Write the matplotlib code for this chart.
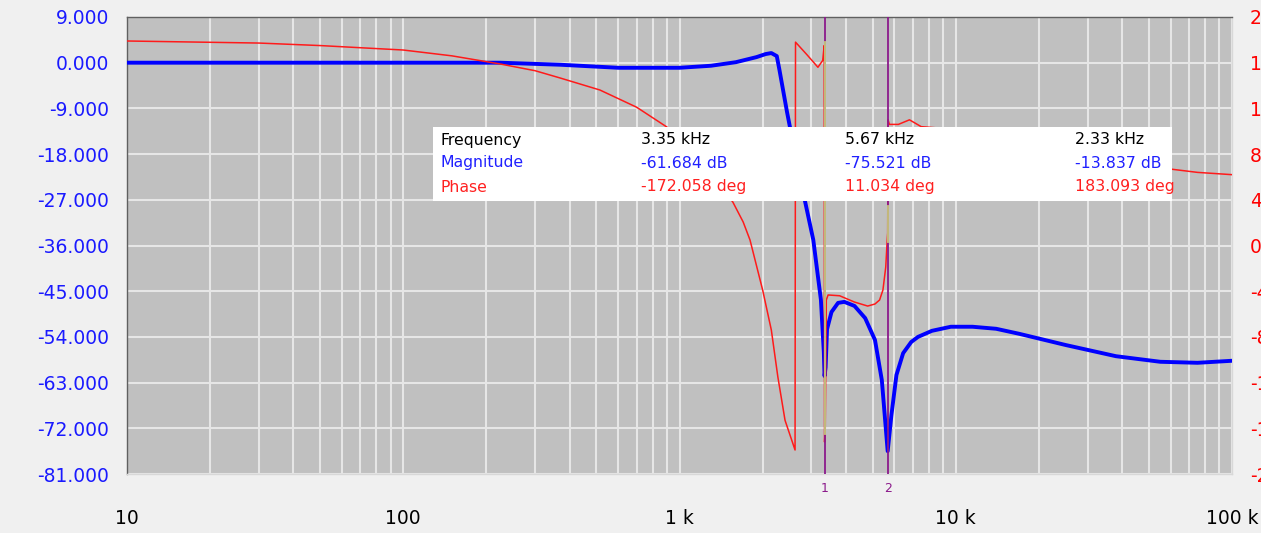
import numpy as np
import matplotlib
matplotlib.use("Agg")
import matplotlib.pyplot as plt
from matplotlib.ticker import FixedLocator, NullFormatter, LogLocator

# magnitude trace (Hz, dB)
mag_freq = [10, 100, 224, 370, 600, 1000, 1300, 1600, 1900, 2050, 2150, 2250, 2300,
            2450, 2700, 2850, 3050, 3250, 3330, 3350, 3380, 3420, 3550, 3750, 3950,
            4300, 4700, 5100, 5400, 5670, 5850, 6100, 6450, 6900, 7300, 8200, 9600,
            11500, 14000, 17000, 25000, 38000, 55000, 75000, 100000]
mag_db = [0.0, 0.0, 0.0, -0.4, -1.0, -1.0, -0.6, 0.1, 1.1, 1.7, 1.9, 1.3, -1.4,
          -9.7, -21.5, -27.4, -34.9, -46.7, -57.0, -61.7, -60.0, -52.5, -49.1, -47.3, -47.1,
          -47.9, -50.3, -54.6, -62.5, -76.5, -69.4, -61.5, -57.2, -55.0, -54.0, -52.8, -52.0,
          -52.0, -52.4, -53.4, -55.6, -57.8, -58.9, -59.1, -58.7]

# phase trace (Hz, deg)
ph_freq = [10, 30, 50, 100, 150, 224, 300, 370, 515, 700, 900, 1000, 1200, 1400, 1560, 1700, 1800,
           2000, 2150, 2270, 2410, 2620, 2630, 2900, 3170, 3300, 3340, 3350, 3370, 3400,
           3450, 3800, 4300, 4800, 5100, 5300, 5450, 5580, 5640, 5670, 5690, 5750, 6200,
           6800, 7500, 8500, 12000, 20000, 35000, 55000, 75000, 100000]
ph_deg = [179.0, 177.2, 175.0, 171.1, 166.0, 158.9, 153.0, 146.6, 136.1, 121.0, 103.7, 92.0, 72.0, 53.0, 38.0, 20.6, 4.8,
          -39.0, -74.0, -115.0, -153.0, -179.0, 178.0, 166.7, 156.0, 162.0, 175.0, -172.0, -160.0, -47.7,
          -43.3, -44.0, -49.5, -53.0, -51.2, -47.7, -39.0, -18.8, 2.0, 11.0, 110.0, 106.0, 106.0,
          110.0, 104.0, 103.0, 95.0, 82.0, 73.0, 68.0, 64.0, 62.0]

marker_freq = [3350, 5670]
marker_names = ["1", "2"]

col_head = ["Frequency", "Magnitude", "Phase"]
col1 = ["3.35 kHz", "-61.684 dB", "-172.058 deg"]
col2 = ["5.67 kHz", "-75.521 dB", "11.034 deg"]
col3 = ["2.33 kHz", "-13.837 dB", "183.093 deg"]

db_ticks = [9, 0, -9, -18, -27, -36, -45, -54, -63, -72, -81]
deg_ticks = [200, 160, 120, 80, 40, 0, -40, -80, -120, -160, -200]
x_ticks = [10, 100, 1000, 10000, 100000]
x_labels = ["10", "100", "1 k", "10 k", "100 k"]

plt.rcParams['font.family'] = ['DejaVu Sans']

fig = plt.figure(figsize=(12.61, 5.33), dpi=100, facecolor='#f0f0f0')
ax = fig.add_axes([127/1261, 1-474/533, 1105/1261, 457/533])
ax.set_facecolor('#c0c0c0')
ax.set_xscale('log')
ax.set_xlim(10, 100000)
ax.set_ylim(-81, 9)

ax.xaxis.set_major_locator(FixedLocator(x_ticks))
ax.set_xticklabels(x_labels)
ax.xaxis.set_minor_locator(LogLocator(base=10, subs=np.arange(2, 10)))
ax.xaxis.set_minor_formatter(NullFormatter())
ax.set_yticks(db_ticks)
ax.set_yticklabels(["%.3f" % v for v in db_ticks])
ax.tick_params(axis='x', which='both', length=0, pad=25.5, labelsize=13.5, labelcolor='black')
ax.tick_params(axis='y', length=0, pad=13, labelsize=13.5, labelcolor='#1a1aff')
ax.grid(True, which='both', axis='x', color='#e6e6e6', lw=1.5)
ax.grid(True, which='major', axis='y', color='#e6e6e6', lw=1.5)
ax.set_axisbelow(True)
for s in ax.spines.values():
    s.set_color('#606060')
    s.set_linewidth(1.0)
ax.spines['bottom'].set_color('#d8d8d8')
ax.spines['right'].set_color('#d8d8d8')

ax.plot(mag_freq, mag_db, color='#0000ff', lw=2.8, zorder=3)

ax2 = ax.twinx()
ax2.set_ylim(-200, 200)
ax2.set_yticks(deg_ticks)
ax2.set_yticklabels([str(v) for v in deg_ticks])
ax2.tick_params(axis='y', length=0, pad=13, labelsize=13.5, labelcolor='#ff0000')
for s in ax2.spines.values():
    s.set_visible(False)
ax2.plot(ph_freq, ph_deg, color='#ff1a1a', lw=1.1, zorder=3)

# markers
for f, name in zip(marker_freq, marker_names):
    ax2.axvline(f, color='#8b1a8b', lw=1.3, zorder=4)
    ax2.text(f, -207, name, color='#8b1a8b', fontsize=9, ha='center', va='top')
ax2.plot([marker_freq[0], marker_freq[0]], [178, -165], color='#c8c87a', lw=1.3, zorder=5)
ax2.plot([marker_freq[1], marker_freq[1]], [35, 3], color='#c8c87a', lw=1.3, zorder=5)

# readout box
box = fig.add_axes([433/1261, 1-201/533, 739/1261, 74/533])
box.set_xlim(433, 1172)
box.set_ylim(201, 127)
box.set_facecolor('white')
box.set_xticks([])
box.set_yticks([])
for s in box.spines.values():
    s.set_visible(False)
row_y = [140, 163, 187]
row_c = ['black', '#2020ff', '#ff2020']
for col, x in zip([col_head, col1, col2, col3], [441, 641, 845, 1075]):
    for txt, y, c in zip(col, row_y, row_c):
        box.text(x, y, txt, color=c, fontsize=11.3, va='center', ha='left')

fig.savefig("out.png", dpi=100, facecolor=fig.get_facecolor())
